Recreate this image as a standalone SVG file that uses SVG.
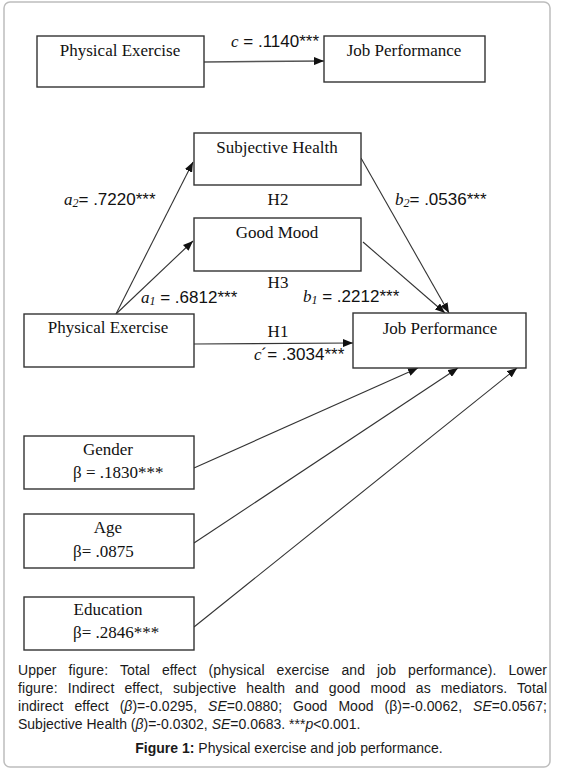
<svg xmlns="http://www.w3.org/2000/svg" width="562" height="776" viewBox="0 0 562 776">
<defs>
<style>
.frame{fill:#fff;stroke:#bdbdbd;stroke-width:1.5}
.box{fill:#fff;stroke:#333;stroke-width:1.4}
.lbl{font-family:"Liberation Serif","Times New Roman",serif;font-size:17px;fill:#111;text-anchor:middle}
.beta{font-family:"Liberation Serif","Times New Roman",serif;font-size:17px;fill:#111}
.coef{font-family:"Liberation Sans",Arial,sans-serif;font-size:17px;fill:#111}
.it{font-family:"Liberation Serif","Times New Roman",serif;font-style:italic}
.h{font-family:"Liberation Serif","Times New Roman",serif;font-size:17px;fill:#111;text-anchor:middle}
.cap{font-family:"Liberation Sans",Arial,sans-serif;font-size:14px;fill:#1a1a1a}
.conn{stroke:#333;stroke-width:1.1;fill:none;marker-end:url(#ah)}
</style>
<marker id="ah" viewBox="0 0 10 8" refX="10" refY="4" markerWidth="10" markerHeight="8" markerUnits="userSpaceOnUse" orient="auto">
<path d="M0,0 L10,4 L0,8 Z" fill="#111"/>
</marker>
</defs>
<rect class="frame" x="4" y="2" width="546" height="765" rx="6"/>

<g id="connectors">
<line class="conn" x1="204" y1="62" x2="324" y2="61" style="stroke:#555;stroke-width:1.5"/>
<line class="conn" x1="116" y1="314" x2="193" y2="162"/>
<line class="conn" x1="116" y1="314" x2="193" y2="241"/>
<line class="conn" x1="194" y1="344" x2="353" y2="343"/>
<line class="conn" x1="361" y1="158" x2="449" y2="313"/>
<line class="conn" x1="363" y1="242" x2="445" y2="313"/>
<line class="conn" x1="194" y1="468" x2="418" y2="368"/>
<line class="conn" x1="194" y1="543" x2="458" y2="368"/>
<line class="conn" x1="194" y1="627" x2="517" y2="368"/>
</g>

<g id="top-physical-exercise">
<rect class="box" x="37" y="36" width="167" height="51"/>
<text class="lbl" x="120" y="56">Physical Exercise</text>
</g>
<g id="top-job-performance">
<rect class="box" x="324" y="36" width="161" height="46"/>
<text class="lbl" x="404" y="56">Job Performance</text>
</g>

<g id="subjective-health">
<rect class="box" x="194" y="133" width="167" height="52"/>
<text class="lbl" x="277" y="153">Subjective Health</text>
</g>
<g id="good-mood">
<rect class="box" x="194" y="218" width="167" height="53"/>
<text class="lbl" x="277" y="238">Good Mood</text>
</g>
<g id="physical-exercise">
<rect class="box" x="24" y="314" width="170" height="53"/>
<text class="lbl" x="108" y="333">Physical Exercise</text>
</g>
<g id="job-performance">
<rect class="box" x="353" y="313" width="173" height="55"/>
<text class="lbl" x="440" y="334">Job Performance</text>
</g>
<g id="gender">
<rect class="box" x="24" y="436" width="170" height="53"/>
<text class="lbl" x="108" y="455">Gender</text>
<text class="beta" x="73" y="478">β = .1830***</text>
</g>
<g id="age">
<rect class="box" x="24" y="514" width="170" height="54"/>
<text class="lbl" x="108" y="533">Age</text>
<text class="beta" x="73" y="557">β= .0875</text>
</g>
<g id="education">
<rect class="box" x="24" y="597" width="170" height="53"/>
<text class="lbl" x="108" y="615">Education</text>
<text class="beta" x="73" y="638">β= .2846***</text>
</g>

<g id="labels">
<text class="coef" x="231" y="47"><tspan class="it">c</tspan> = .1140***</text>
<text class="coef" x="64" y="205"><tspan class="it">a</tspan><tspan class="it" font-size="12" dy="2">2</tspan><tspan dy="-2">= .7220***</tspan></text>
<text class="coef" x="395" y="205"><tspan class="it">b</tspan><tspan class="it" font-size="12" dy="2">2</tspan><tspan dy="-2">= .0536***</tspan></text>
<text class="coef" x="141" y="303"><tspan class="it">a</tspan><tspan class="it" font-size="12" dy="2">1</tspan><tspan dy="-2"> = .6812***</tspan></text>
<text class="coef" x="303" y="302"><tspan class="it">b</tspan><tspan class="it" font-size="12" dy="2">1</tspan><tspan dy="-2"> = .2212***</tspan></text>
<text class="coef" x="254" y="360"><tspan class="it">c</tspan>´= .3034***</text>
<text class="h" x="278" y="205">H2</text>
<text class="h" x="278" y="288">H3</text>
<text class="h" x="278" y="337">H1</text>
</g>

<g id="caption">
<text class="cap" x="18" y="675" word-spacing="8" textLength="529" lengthAdjust="spacing">Upper figure: Total effect (physical exercise and job performance). Lower</text>
<text class="cap" x="18" y="693" word-spacing="6" textLength="529" lengthAdjust="spacing">figure: Indirect effect, subjective health and good mood as mediators. Total</text>
<text class="cap" x="18" y="711" word-spacing="7" textLength="529" lengthAdjust="spacing">indirect effect (<tspan font-style="italic">β</tspan>)=-0.0295, <tspan font-style="italic">SE</tspan>=0.0880; Good Mood (β)=-0.0062, <tspan font-style="italic">SE</tspan>=0.0567;</text>
<text class="cap" x="18" y="729">Subjective Health (<tspan font-style="italic">β</tspan>)=-0.0302, <tspan font-style="italic">SE</tspan>=0.0683. ***<tspan font-style="italic">p</tspan>&lt;0.001.</text>
<text class="cap" x="289" y="753" text-anchor="middle"><tspan font-weight="bold">Figure 1:</tspan> Physical exercise and job performance.</text>
</g>
</svg>
